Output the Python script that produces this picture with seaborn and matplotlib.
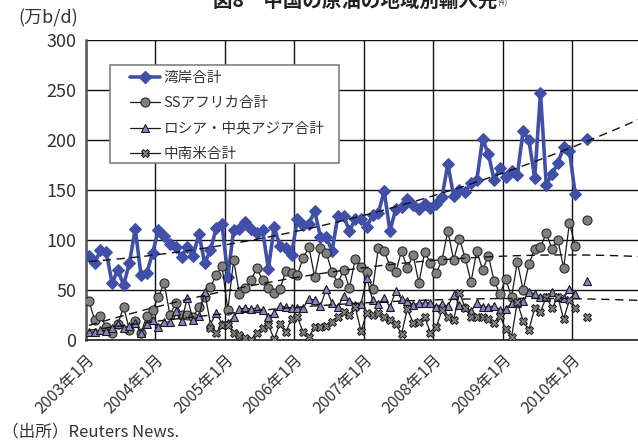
import numpy as np
import pandas as pd
import seaborn as sns
import matplotlib

matplotlib.use("Agg")
import matplotlib.pyplot as plt
from matplotlib.lines import Line2D
from matplotlib.patches import Rectangle

nan = np.nan

# Monthly data, 2003年1月 = index 0 (2010年2月 missing)
year_labels = ["2003年1月", "2004年1月", "2005年1月", "2006年1月",
               "2007年1月", "2008年1月", "2009年1月", "2010年1月"]

gulf = [84, 77, 90, 88, 57, 70, 55, 77, 111, 65, 67, 87,
        110, 104, 96, 93, 83, 93, 84, 106, 77, 90, 112, 116,
        63, 110, 111, 118, 111, 107, 110, 71, 113, 94, 92, 85,
        121, 115, 116, 129, 103, 103, 89, 124, 124, 109, 121, 121,
        113, 125, 127, 149, 109, 131, 133, 141, 135, 131, 136, 132,
        136, 143, 176, 144, 150, 148, 157, 160, 201, 186, 160, 172,
        163, 169, 165, 209, 200, 162, 247, 155, 166, 177, 193, 189,
        146, nan, 201]

ss_africa = [39, 20, 24, 13, 7, 16, 33, 10, 19, 7, 24, 30,
             43, 57, 25, 37, 25, 25, 23, 33, 43, 53, 65, 74,
             30, 80, 46, 52, 60, 72, 60, 52, 47, 51, 69, 67,
             65, 82, 93, 63, 92, 87, 68, 57, 70, 52, 81, 73,
             68, 51, 92, 89, 74, 68, 89, 72, 85, 57, 88, 77,
             67, 80, 109, 80, 101, 82, 58, 89, 70, 84, 59, 46,
             61, 43, 78, 50, 76, 91, 93, 107, 91, 100, 72, 117,
             94, nan, 120]

russia_ca = [8, 8, 10, 9, 12, 16, 12, 14, 17, 7, 16, 20,
             13, 18, 18, 29, 19, 42, 20, 24, 48, 16, 27, 16,
             17, 23, 31, 32, 31, 32, 30, 23, 27, 34, 33, 32,
             32, 32, 41, 40, 34, 51, 37, 33, 44, 39, 35, 36,
             62, 40, 36, 42, 33, 49, 41, 39, 35, 37, 37, 37,
             33, 36, 34, 45, 35, 33, 29, 37, 33, 33, 34, 30,
             31, 37, 37, 39, 48, 46, 43, 43, 48, 43, 42, 51,
             46, nan, 59]

latin = [nan] * 21 + [
    12, 7, 15, 15, 7, 5, 2, 0, 7, 12, 15, 1,
    16, 8, 21, 23, 8, 3, 13, 13, 14, 18, 23, 28,
    25, 33, 9, 27, 25, 27, 23, 20, 16, 6, 31, 17,
    18, 23, 7, 13, 30, 23, 20, 47, 32, 23, 23, 23,
    21, 17, 24, 11, 3, 38, 19, 10, 32, 28, 43, 32,
    43, 21, 40, 32, nan, 23]

series = [
    ("湾岸合計", gulf, dict(color="#4050A8", lw=2.6, marker="D", ms=6,
                        mfc="#4050A8", mec="#4050A8"), True),
    ("SSアフリカ合計", ss_africa, dict(color="#1a1a1a", lw=0.9, marker="o", ms=6.5,
                                mfc="#808080", mec="#2a2a2a", mew=0.8), True),
    ("ロシア・中央アジア合計", russia_ca, dict(color="#1a1a1a", lw=0.9, marker="^", ms=6,
                                     mfc="#8585C8", mec="#1a1a1a", mew=0.8), True),
    ("中南米合計", latin, dict(color="#1a1a1a", lw=0.9, marker="X", ms=6,
                            mfc="#808080", mec="#1a1a1a", mew=0.7), False),
]

sns.set_style("white")
plt.rcParams["font.family"] = ["Liberation Sans Narrow", "Noto Sans CJK JP", "DejaVu Sans"]
plt.rcParams["text.color"] = "#333333"

W, H = 638, 447
fig = plt.figure(figsize=(W / 100, H / 100), dpi=100)
ax = fig.add_axes([86 / W, (H - 340) / H, (641.8 - 86) / W, 300 / H])

x_full = np.arange(len(gulf)) + 0.5
handles = []
for z, (name, vals, st, trend) in enumerate(series):
    df = pd.DataFrame({"x": x_full, "y": vals})
    main_part = df.iloc[:85].dropna()
    tail = df.iloc[85:].dropna()
    sns.lineplot(data=main_part, x="x", y="y", ax=ax, estimator=None,
                 zorder=3 + z, linestyle="-", **st)
    sns.lineplot(data=tail, x="x", y="y", ax=ax, estimator=None,
                 zorder=3 + z, linestyle="none", **st)
    if trend:
        fit = df.dropna()
        coef = np.polyfit(fit["x"], fit["y"], 2)
        xt = np.linspace(0.5, 96, 200)
        tdf = pd.DataFrame({"x": xt, "y": np.polyval(coef, xt)})
        sns.lineplot(data=tdf, x="x", y="y", ax=ax, color="#111111", lw=1.0,
                     dashes=False, linestyle=(0, (6, 4)), zorder=8)
    handles.append(Line2D([], [], label=name, **st))

ax.set_xlim(0, 96)
ax.set_ylim(0, 300)
ax.set_xticks(np.arange(0, 97, 12))
ax.set_xticklabels(year_labels + [""], rotation=45, ha="right", va="top",
                   rotation_mode="anchor", fontsize=11.5, color="#333333")
ax.set_yticks(np.arange(0, 301, 50))
ax.set_yticklabels([str(v) for v in range(0, 301, 50)], fontsize=13, color="#333333")
ax.tick_params(axis="both", length=4, width=1, color="#222222", pad=3)
ax.tick_params(axis="x", pad=4)
ax.grid(True, color="#111111", lw=1.0)
ax.set_axisbelow(True)
for s in ["top", "right"]:
    ax.spines[s].set_visible(False)
ax.spines["left"].set_color("#555555")
ax.spines["left"].set_linewidth(1.8)
ax.spines["bottom"].set_color("#222222")
ax.spines["bottom"].set_linewidth(1.2)
ax.set_xlabel("")
ax.set_ylabel("")

# legend box drawn separately so the padding matches
box = Rectangle((110 / W, 1 - 163 / H), 229 / W, 98 / H, transform=fig.transFigure,
                facecolor="white", edgecolor="#808080", lw=1.2, zorder=19)
ax.add_artist(box)
leg = ax.legend(handles=handles, loc="upper left",
                bbox_to_anchor=((130 - 86) / 555.8, (340 - 71) / 300),
                fontsize=10.5, frameon=False, handlelength=2.05,
                handletextpad=0.25, labelspacing=0.78, borderpad=0,
                borderaxespad=0)
leg.set_zorder(20)
for t in leg.get_texts():
    t.set_color("#333333")

fig.text(355 / W, 1 - 1 / H, "図8　中国の原油の地域別輸入先", ha="center", va="center",
         fontsize=14, fontweight="bold", color="#222222")
fig.text(497 / W, 1 - 3 / H, "(4)", ha="left", va="center", fontsize=6, color="#444444")
fig.text(18 / W, 1 - 18 / H, "(万b/d)", ha="left", va="center", fontsize=13)
fig.text(2 / W, 1 - 432 / H, "（出所）Reuters News.", ha="left", va="center", fontsize=12)

fig.savefig("out.png", dpi=100)
plt.close(fig)
